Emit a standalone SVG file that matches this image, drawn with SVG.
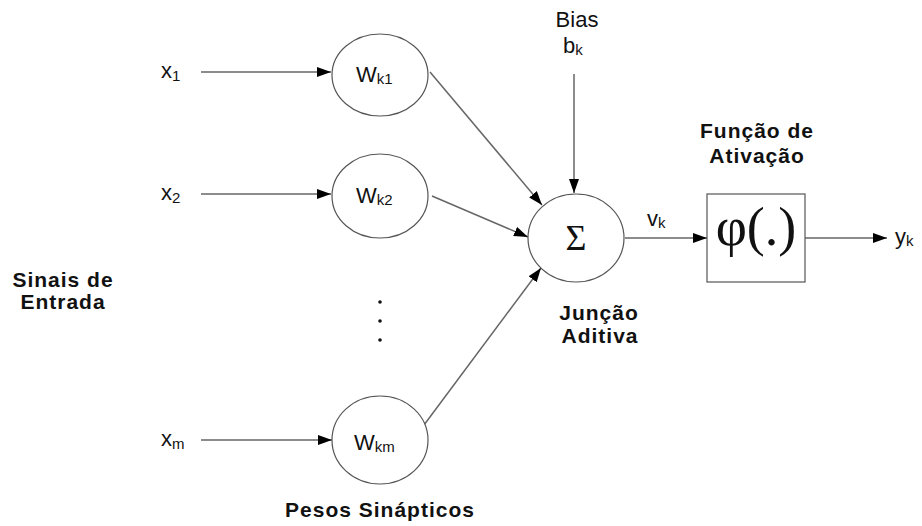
<svg xmlns="http://www.w3.org/2000/svg" width="922" height="526" viewBox="0 0 922 526">
<style>
.node{fill:#fff;stroke:#555;stroke-width:1.2}
.edge{stroke:#666;stroke-width:1.5;fill:none;marker-end:url(#ah)}
.lbl{font-family:"Liberation Sans",Arial,sans-serif;font-size:22px;fill:#111}
.sub{font-size:15px}
.bold{font-family:"Liberation Sans",Arial,sans-serif;font-size:21px;font-weight:bold;letter-spacing:1px;fill:#111;text-anchor:middle}
.sym{font-family:"Liberation Serif","Times New Roman",serif;fill:#111;text-anchor:middle}
</style>
<defs>
<marker id="ah" markerWidth="14" markerHeight="10" refX="14" refY="5" orient="auto" markerUnits="userSpaceOnUse">
<path d="M0,0 L14,5 L0,10 z" fill="#000"/>
</marker>
</defs>
<rect width="922" height="526" fill="#fff"/>
<g id="connectors">
<line class="edge" x1="201" y1="72" x2="331" y2="72"/>
<line class="edge" x1="201" y1="194" x2="331" y2="194"/>
<line class="edge" x1="201" y1="440" x2="332" y2="440"/>
<line class="edge" x1="430" y1="72" x2="542" y2="205"/>
<line class="edge" x1="432" y1="196" x2="528" y2="237"/>
<line class="edge" x1="424" y1="425" x2="541" y2="268"/>
<line class="edge" x1="574" y1="74" x2="574" y2="193"/>
<line class="edge" x1="625" y1="238" x2="707" y2="238"/>
<line class="edge" x1="805" y1="238" x2="887" y2="238"/>
</g>
<g id="x1"><text class="lbl" x="161" y="78">x<tspan class="sub" dy="3">1</tspan></text></g>
<g id="x2"><text class="lbl" x="161" y="200">x<tspan class="sub" dy="3">2</tspan></text></g>
<g id="xm"><text class="lbl" x="161" y="446">x<tspan class="sub" dy="3">m</tspan></text></g>
<g id="wk1"><ellipse class="node" cx="380" cy="75" rx="48" ry="41"/><text class="lbl" x="356" y="82" font-size="24">W<tspan class="sub" dy="2">k1</tspan></text></g>
<g id="wk2"><ellipse class="node" cx="380" cy="196" rx="48" ry="42"/><text class="lbl" x="356" y="203" font-size="24">W<tspan class="sub" dy="2">k2</tspan></text></g>
<g id="wkm"><ellipse class="node" cx="380" cy="440" rx="48" ry="44"/><text class="lbl" x="354" y="450" font-size="24">W<tspan class="sub" dy="2">km</tspan></text></g>
<g id="dots" fill="#111"><circle cx="380" cy="302" r="1.8"/><circle cx="380" cy="321" r="1.8"/><circle cx="380" cy="340" r="1.8"/></g>
<g id="sum"><ellipse class="node" cx="576" cy="238" rx="48" ry="44"/><text class="sym" x="576" y="250" font-size="36">Σ</text></g>
<g id="bias"><text class="lbl" x="577" y="27" text-anchor="middle" font-size="20">Bias</text><text class="lbl" x="563" y="53">b<tspan class="sub" dy="2">k</tspan></text></g>
<g id="vk"><text class="lbl" x="647" y="226">v<tspan class="sub" dy="2">k</tspan></text></g>
<g id="act"><rect class="node" x="707" y="194" width="98" height="88"/><text class="sym" x="756" y="245" font-size="54">φ(.)</text></g>
<g id="yk"><text class="lbl" x="895" y="244">y<tspan class="sub" dy="2">k</tspan></text></g>
<g id="labels">
<text class="bold" x="63" y="287">Sinais de</text>
<text class="bold" x="63" y="309">Entrada</text>
<text class="bold" x="599" y="320">Junção</text>
<text class="bold" x="600" y="343">Aditiva</text>
<text class="bold" x="757" y="138">Função de</text>
<text class="bold" x="757" y="163">Ativação</text>
<text class="bold" x="380" y="517">Pesos Sinápticos</text>
</g>
</svg>
